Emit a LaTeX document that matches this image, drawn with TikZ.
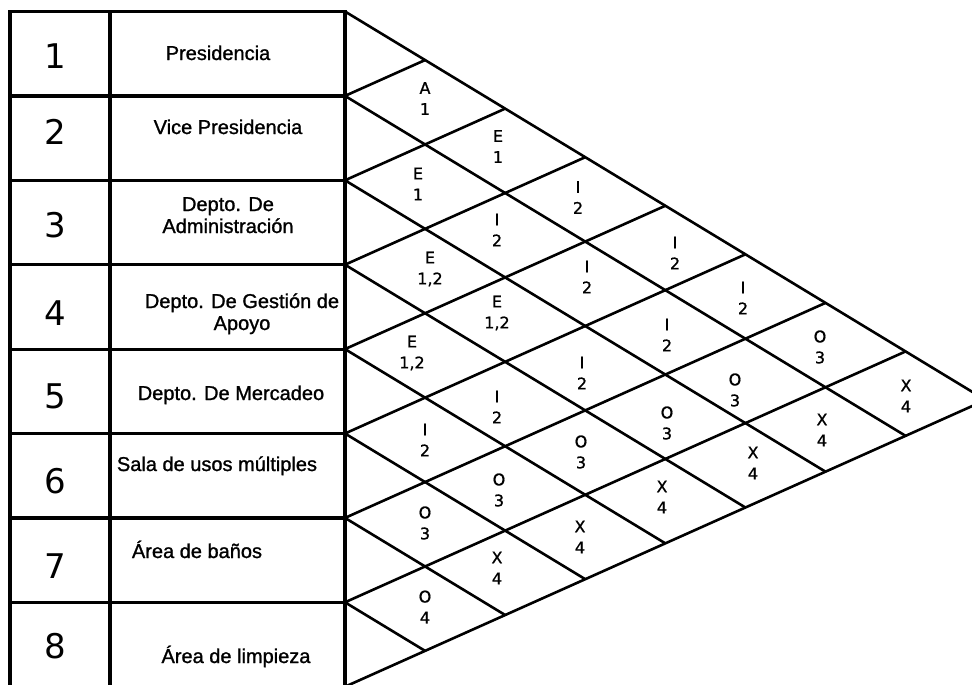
\documentclass[tikz,border=0pt]{standalone}
\usepackage{fontspec}
\setmainfont{Liberation Sans}
\newfontfamily\medfont{Liberation Sans}[FakeBold=1.2]
\newfontfamily\numfont{DejaVu Sans}
\newfontfamily\relfont{DejaVu Sans}[FakeBold=1]

\begin{document}
\begin{tikzpicture}[x=1pt, y=-1pt,
    frame/.style={line width=3.2pt},
    grid/.style={line width=2.6pt},
    num/.style={inner sep=0pt, font=\numfont\fontsize{34}{38}\selectfont},
    area/.style={anchor=base, align=center, inner sep=0pt, font=\medfont\fontsize{20}{22}\selectfont},
    rel/.style={align=center, inner sep=0pt, font=\relfont\fontsize{16}{21}\selectfont}]
  \def\ya{11.5}\def\hr{84.4}\def\sa{0.6064}\def\sb{0.4475}
  \useasboundingbox (0,0) rectangle (972,685);
  % table
  \foreach \k in {0,...,8}
    \coordinate (r\k) at (345,{\ya+\k*\hr});
  \draw[frame] (10,695) -- (10,\ya) -- (r0) -- (345,695);
  \draw[frame] (110,\ya) -- (110,695);
  \foreach \k in {1,...,7}
    \draw[frame] (10,{\ya+\k*\hr}) -- (r\k);
  % diagonals
  \foreach \k in {0,...,8}{
    \pgfmathsetmacro\dd{(8-\k)*\hr/(\sa+\sb)}
    \pgfmathsetmacro\du{\k*\hr/(\sa+\sb)}
    \path (r\k) ++(\dd,{\sa*\dd}) coordinate (d\k);
    \path (r\k) ++(\du,{-\sb*\du}) coordinate (u\k);
    \draw[grid] (u\k) -- (r\k) -- (d\k);
  }
  % numbers
  \foreach \n/\yc in {1/56.5,2/132,3/225.5,4/313,5/396,6/481,7/566,8/646}
    \node[num] (num\n) at (55,\yc) {\n};
  % areas (two-line ones sit on their last baseline)
  \node[area] (area1) at (218,60) {Presidencia};
  \node[area] (area2) at (228,134) {Vice Presidencia};
  \node[area] (area3) at (228,233) {Depto. De\\Administración};
  \node[area] (area4) at (242,330) {Depto. De Gestión de\\Apoyo};
  \node[area] (area5) at (231,400) {Depto. De Mercadeo};
  \node[area] (area6) at (217,471) {Sala de usos múltiples};
  \node[area] (area7) at (197,558) {Área de baños};
  \node[area] (area8) at (236,663) {Área de limpieza};
  % relations
  \foreach \p/\px/\py/\txt in {12/425/98.5/{A\\1}, 23/418/184/{E\\1}, 34/430/269/{E\\1,2},
      45/412/353/{E\\1,2}, 56/425/440/{I\\2}, 67/425/523/{O\\3}, 78/425/607/{O\\4},
      13/498/146.5/{E\\1}, 24/497/230/{I\\2}, 35/497/313/{E\\1,2}, 46/497/407/{I\\2},
      57/499/490/{O\\3}, 68/497/568/{X\\4},
      14/578/197.5/{I\\2}, 25/587/277/{I\\2}, 36/582/373/{I\\2}, 47/581/452/{O\\3}, 58/580/537/{X\\4},
      15/675/253/{I\\2}, 26/667/335/{I\\2}, 37/667/423/{O\\3}, 48/662/497/{X\\4},
      16/743/298/{I\\2}, 27/735/390/{O\\3}, 38/753/463/{X\\4},
      17/820/347/{O\\3}, 28/822/430/{X\\4}, 18/906/396/{X\\4}}
    \node[rel] (rel\p) at (\px,\py) {\txt};
\end{tikzpicture}
\end{document}
